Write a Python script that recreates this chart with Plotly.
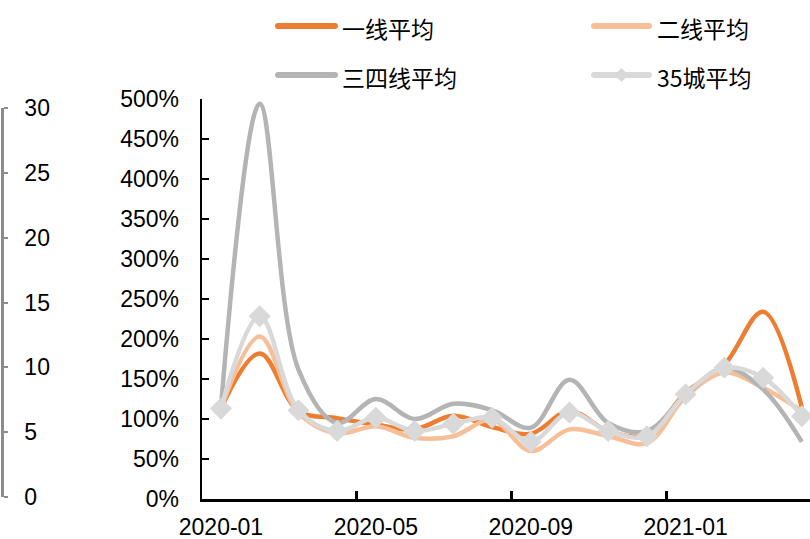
import plotly.graph_objects as go

# Monthly categories, 2020-01 .. 2021-04
months = ["2020-01", "2020-02", "2020-03", "2020-04", "2020-05", "2020-06",
          "2020-07", "2020-08", "2020-09", "2020-10", "2020-11", "2020-12",
          "2021-01", "2021-02", "2021-03", "2021-04"]
tick_labels = ["2020-01", "2020-05", "2020-09", "2021-01"]

# Average ratios (1.0 = 100%)
tier1 = [1.13, 1.82, 1.10, 1.01, 0.93, 0.87, 1.04, 0.90, 0.815, 1.10, 0.85, 0.80,
         1.33, 1.68, 2.34, 1.14]
tier2 = [1.13, 2.03, 1.08, 0.82, 0.91, 0.765, 0.785, 0.99, 0.60, 0.87, 0.785, 0.70,
         1.28, 1.58, 1.39, 1.10]
tier34 = [1.15, 4.94, 1.62, 0.95, 1.25, 1.00, 1.19, 1.11, 0.89, 1.49, 0.95, 0.85,
          1.30, 1.64, 1.37, 0.715]
city35 = [1.13, 2.285, 1.11, 0.85, 1.015, 0.85, 0.94, 1.015, 0.715, 1.08, 0.85, 0.785,
          1.31, 1.64, 1.515, 1.035]

names = ["一线平均", "二线平均", "三四线平均", "35城平均"]
colors = ["#ED7D31", "#F7BF98", "#B4B4B4", "#D9D9D9"]

W, H = 810, 539
ML, MR, MT, MB = 2, 0, 99, 40
PW, PH = W - ML - MR, H - MT - MB

def px_x(p):
    return (p - ML) / PW

def px_y(p):
    return (H - MB - p) / PH

idx = list(range(len(months)))
fig = go.Figure()

for vals, name, col in zip([tier1, tier2, tier34], names[:3], colors[:3]):
    fig.add_trace(go.Scatter(
        x=idx, y=vals, name=name, mode="lines",
        line=dict(color=col, width=4.5, shape="spline", smoothing=1),
        showlegend=False, cliponaxis=False))

fig.add_trace(go.Scatter(
    x=idx, y=city35, name=names[3], mode="lines+markers",
    line=dict(color=colors[3], width=4.5, shape="spline", smoothing=1),
    marker=dict(symbol="diamond", size=17, color=colors[3]),
    showlegend=False, cliponaxis=False))

# placeholder trace so the secondary left scale is drawn
fig.add_trace(go.Scatter(x=[None], y=[None], yaxis="y2", showlegend=False,
                         hoverinfo="skip"))

num_font = dict(family="Liberation Sans, Arial, sans-serif", size=23, color="#000000")

fig.update_layout(
    width=W, height=H,
    margin=dict(l=ML, r=MR, t=MT, b=MB),
    paper_bgcolor="white", plot_bgcolor="rgba(0,0,0,0)",
    showlegend=False,
    xaxis=dict(
        domain=[px_x(201.6), 1.0],
        range=[-0.5, 15.21], automargin=False,
        tickmode="array", tickvals=[0, 4, 8, 12], ticktext=tick_labels,
        ticks="", showgrid=False, zeroline=False,
        showline=True, linecolor="black", linewidth=2.5,
        tickfont=num_font, ticklabelstandoff=6,
        minor=dict(tickmode="array", tickvals=[3.5, 7.5, 11.5], ticks="inside",
                   ticklen=8, tickwidth=2.5, tickcolor="black", showgrid=False),
    ),
    yaxis=dict(
        range=[0, 5], dtick=0.5, tick0=0, tickformat=".0%", automargin=False,
        ticks="inside", ticklen=7, tickwidth=2, tickcolor="black",
        showline=True, linecolor="black", linewidth=2,
        showgrid=False, zeroline=False,
        tickfont=num_font, ticklabelstandoff=16,
    ),
    yaxis2=dict(
        domain=[px_y(497), px_y(108)],
        range=[0, 30], dtick=5, tick0=0, automargin=False,
        anchor="free", position=0, side="right",
        ticks="outside", ticklen=4, tickwidth=1.5, tickcolor="#8C8C8C",
        showline=True, linecolor="#8C8C8C", linewidth=2.5,
        showgrid=False, zeroline=False,
        tickfont=num_font, ticklabelstandoff=12,
    ),
)

# Legend: two columns, two rows
legend_cols = [(278, 335, 340), (594, 649, 655)]
legend_rows = [26, 75]
cjk_font = dict(family="Noto Sans CJK SC, sans-serif", size=23, color="#000000")
shapes, annos = [], []
for k, (name, col) in enumerate(zip(names, colors)):
    r, c = divmod(k, 2)
    x0, x1, xt = legend_cols[c]
    yy = legend_rows[r]
    shapes.append(dict(type="line", xref="paper", yref="paper",
                       x0=px_x(x0), x1=px_x(x1), y0=px_y(yy), y1=px_y(yy),
                       line=dict(color=col, width=6)))
    # rounded line ends
    for ex in (x0, x1):
        shapes.append(dict(type="circle", xref="paper", yref="paper",
                           x0=px_x(ex - 3), x1=px_x(ex + 3),
                           y0=px_y(yy + 3), y1=px_y(yy - 3),
                           fillcolor=col, line=dict(width=0)))
    if k == 3:
        cx = (x0 + x1) / 2
        d = 7
        path = "M {} {} L {} {} L {} {} L {} {} Z".format(
            px_x(cx - d), px_y(yy), px_x(cx), px_y(yy - d),
            px_x(cx + d), px_y(yy), px_x(cx), px_y(yy + d))
        shapes.append(dict(type="path", xref="paper", yref="paper", path=path,
                           fillcolor=col, line=dict(color=col, width=0)))
    annos.append(dict(text=name, xref="paper", yref="paper",
                      x=px_x(xt), y=px_y(yy + 2), xanchor="left", yanchor="middle",
                      showarrow=False, font=cjk_font))

fig.update_layout(shapes=shapes, annotations=annos)
fig.write_html("out.html")
